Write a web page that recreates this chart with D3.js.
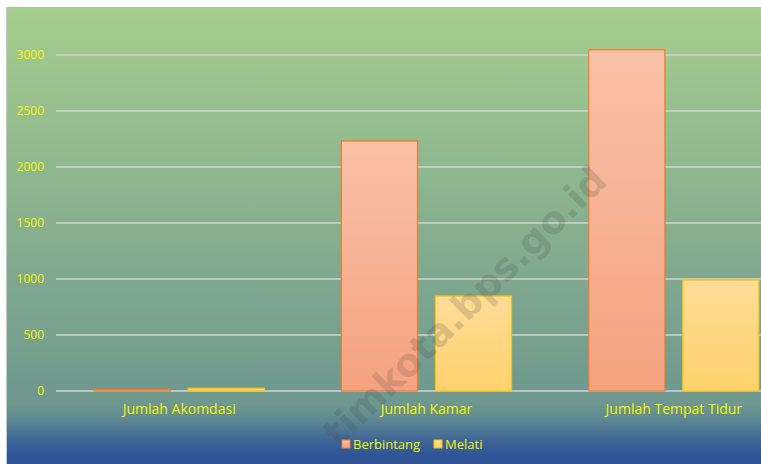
<!DOCTYPE html>
<html><head><meta charset="utf-8">
<script src="https://cdn.jsdelivr.net/npm/d3@7"></script>
<style>body{margin:0;background:#fff;}svg{display:block;}</style>
</head><body>
<svg id="c" width="761" height="464"></svg>
<script>
const categories = ["Jumlah Akomdasi", "Jumlah Kamar", "Jumlah Tempat Tidur"];
const seriesNames = ["Berbintang", "Melati"];
const berbintang = [15, 2232, 3047];
const melati = [25, 848, 991];
const yTicks = [0, 500, 1000, 1500, 2000, 2500, 3000];

const svg = d3.select("#c");
const defs = svg.append("defs");
const bg = defs.append("linearGradient").attr("id","bg").attr("x1",0).attr("y1",0).attr("x2",0).attr("y2",1);
[[0,"#a6cd8e"],[0.87,"#6e978f"],[0.9,"#5f8a92"],[0.95,"#3e6596"],[0.98,"#2f5597"],[1,"#2f5597"]].forEach(s=>bg.append("stop").attr("offset",s[0]).attr("stop-color",s[1]));
const g1 = defs.append("linearGradient").attr("id","gB").attr("x1",0).attr("y1",0).attr("x2",0).attr("y2",1);
g1.append("stop").attr("offset",0).attr("stop-color","#f8c1a8");
g1.append("stop").attr("offset",1).attr("stop-color","#f5a27f");
const g2 = defs.append("linearGradient").attr("id","gM").attr("x1",0).attr("y1",0).attr("x2",0).attr("y2",1);
g2.append("stop").attr("offset",0).attr("stop-color","#ffdc98");
g2.append("stop").attr("offset",1).attr("stop-color","#ffd26c");

// chart area
svg.append("rect").attr("x",7).attr("y",7).attr("width",761-7).attr("height",464-7).attr("fill","url(#bg)");
svg.append("line").attr("x1",6.5).attr("x2",6.5).attr("y1",7).attr("y2",464).attr("stroke","#c8c8c8").attr("stroke-width",1);

const left = 56, right = 797;
const y = d3.scaleLinear().domain([0,3000]).range([391,55]);
const x0 = d3.scaleBand().domain(categories).range([left,right]).paddingInner(0.312).paddingOuter(0.154);
const x1 = d3.scaleBand().domain(seriesNames).range([0,x0.bandwidth()]).paddingInner(0.19);

const clip = defs.append("clipPath").attr("id","clip");
clip.append("rect").attr("x",7).attr("y",7).attr("width",754).attr("height",457);
const plot = svg.append("g").attr("clip-path","url(#clip)");

// gridlines
plot.selectAll("line.grid").data(yTicks).enter().append("line")
  .attr("x1",left).attr("x2",right).attr("y1",d=>y(d)).attr("y2",d=>y(d))
  .attr("stroke","#d3d3d3").attr("stroke-width",1.5);

// y axis labels
const yAxis = d3.axisLeft(y).tickValues(yTicks).tickFormat(d3.format("d")).tickSize(0).tickPadding(12);
const ya = svg.append("g").attr("transform",`translate(${left},0)`).call(yAxis);
ya.select(".domain").remove();
ya.selectAll("text").attr("fill","#f5f500").style("font-family","'Open Sans', 'Noto Sans', sans-serif").style("font-size","12px");

// bars
const data = categories.map((c,i)=>({c, vals:[{s:"Berbintang",v:berbintang[i]},{s:"Melati",v:melati[i]}]}));
const grp = plot.selectAll("g.cat").data(data).enter().append("g").attr("transform",d=>`translate(${x0(d.c)},0)`);
grp.selectAll("rect").data(d=>d.vals).enter().append("rect")
  .attr("x",d=>x1(d.s)).attr("width",x1.bandwidth())
  .attr("y",d=>y(d.v)).attr("height",d=>y(0)-y(d.v))
  .attr("fill",d=>d.s==="Berbintang"?"url(#gB)":"url(#gM)")
  .attr("stroke",d=>d.s==="Berbintang"?"#ed7d31":"#ffc000").attr("stroke-width",1.2);

// x axis labels
const xAxis = d3.axisBottom(x0).tickSize(0).tickPadding(13);
const xa = svg.append("g").attr("transform",`translate(0,${y(0)})`).call(xAxis);
xa.select(".domain").remove();
xa.selectAll("text").attr("fill","#f5f500").style("font-family","'Open Sans', 'Noto Sans', sans-serif").style("font-size","14px");

// watermark
svg.append("text").attr("transform","translate(609,183) rotate(-44.5)")
  .attr("text-anchor","end").attr("fill","rgba(70,70,70,0.2)")
  .style("font-family","'DejaVu Sans', sans-serif").style("font-weight","bold").style("font-size","38px")
  .text("timkota.bps.go.id");

// legend
const legend = svg.append("g");
const items = [{s:"Berbintang",x:342},{s:"Melati",x:434}];
items.forEach(it=>{
  legend.append("rect").attr("x",it.x).attr("y",440).attr("width",8).attr("height",8)
    .attr("fill",it.s==="Berbintang"?"url(#gB)":"url(#gM)")
    .attr("stroke",it.s==="Berbintang"?"#ed7d31":"#ffc000").attr("stroke-width",1);
  legend.append("text").attr("x",it.x+11).attr("y",449).text(it.s)
    .attr("fill","#f5f500").style("font-family","'Open Sans', 'Noto Sans', sans-serif").style("font-size","13px");
});
</script>
</body></html>
